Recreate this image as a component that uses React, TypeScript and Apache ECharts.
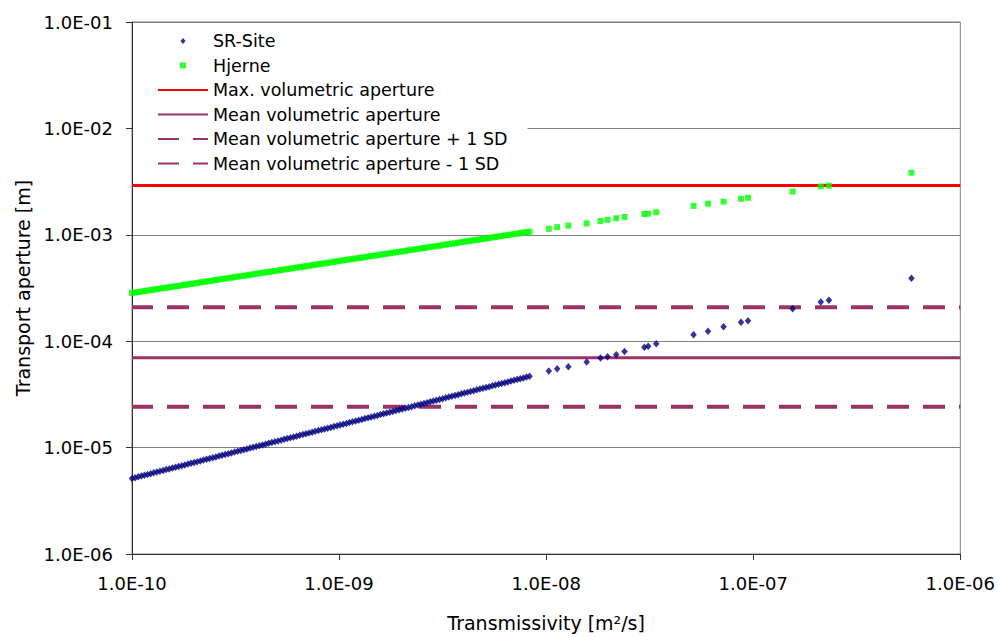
import React, { useEffect, useRef } from "react";
import * as echarts from "echarts";

// Transmissivity [m2/s] (shared by both data sets)
const transmissivity = [
  1.0e-10, 1.072e-10, 1.148e-10, 1.23e-10, 1.318e-10, 1.413e-10, 1.514e-10, 1.622e-10, 1.738e-10, 1.862e-10,
  1.995e-10, 2.138e-10, 2.291e-10, 2.455e-10, 2.63e-10, 2.818e-10, 3.02e-10, 3.236e-10, 3.467e-10, 3.715e-10,
  3.981e-10, 4.266e-10, 4.571e-10, 4.898e-10, 5.248e-10, 5.623e-10, 6.026e-10, 6.457e-10, 6.918e-10, 7.413e-10,
  7.943e-10, 8.511e-10, 9.12e-10, 9.772e-10, 1.047e-9, 1.122e-9, 1.202e-9, 1.288e-9, 1.38e-9, 1.479e-9,
  1.585e-9, 1.698e-9, 1.82e-9, 1.95e-9, 2.089e-9, 2.239e-9, 2.399e-9, 2.57e-9, 2.754e-9, 2.951e-9,
  3.162e-9, 3.388e-9, 3.631e-9, 3.89e-9, 4.169e-9, 4.467e-9, 4.786e-9, 5.129e-9, 5.495e-9, 5.888e-9,
  6.31e-9, 6.761e-9, 7.244e-9, 7.762e-9, 8.318e-9,
  1.03e-8, 1.13e-8, 1.28e-8, 1.57e-8, 1.83e-8, 1.98e-8, 2.18e-8, 2.39e-8, 2.98e-8, 3.11e-8,
  3.4e-8, 5.15e-8, 6.05e-8, 7.19e-8, 8.73e-8, 9.44e-8, 1.55e-7, 2.12e-7, 2.32e-7, 5.81e-7,
];

// Transport aperture [m], SR-Site
const srSite = [
  5.13e-6, 5.31e-6, 5.5e-6, 5.69e-6, 5.89e-6, 6.1e-6, 6.31e-6, 6.53e-6, 6.76e-6, 7.0e-6,
  7.25e-6, 7.5e-6, 7.76e-6, 8.04e-6, 8.32e-6, 8.61e-6, 8.92e-6, 9.23e-6, 9.55e-6, 9.89e-6,
  1.024e-5, 1.06e-5, 1.097e-5, 1.135e-5, 1.175e-5, 1.217e-5, 1.259e-5, 1.304e-5, 1.349e-5, 1.397e-5,
  1.446e-5, 1.497e-5, 1.549e-5, 1.604e-5, 1.66e-5, 1.718e-5, 1.779e-5, 1.841e-5, 1.906e-5, 1.973e-5,
  2.042e-5, 2.114e-5, 2.188e-5, 2.265e-5, 2.345e-5, 2.427e-5, 2.513e-5, 2.601e-5, 2.692e-5, 2.787e-5,
  2.885e-5, 2.986e-5, 3.091e-5, 3.2e-5, 3.312e-5, 3.429e-5, 3.549e-5, 3.674e-5, 3.803e-5, 3.937e-5,
  4.075e-5, 4.218e-5, 4.366e-5, 4.52e-5, 4.679e-5,
  5.24e-5, 5.5e-5, 5.75e-5, 6.37e-5, 6.94e-5, 7.13e-5, 7.44e-5, 8.0e-5, 8.79e-5, 8.98e-5,
  9.44e-5, 1.15e-4, 1.24e-4, 1.37e-4, 1.51e-4, 1.56e-4, 2.02e-4, 2.33e-4, 2.43e-4, 3.91e-4,
];

// Transport aperture [m], Hjerne
const hjerne = [
  2.84e-4, 2.9e-4, 2.96e-4, 3.02e-4, 3.09e-4, 3.15e-4, 3.22e-4, 3.28e-4, 3.35e-4, 3.42e-4,
  3.49e-4, 3.57e-4, 3.64e-4, 3.72e-4, 3.8e-4, 3.88e-4, 3.96e-4, 4.04e-4, 4.12e-4, 4.21e-4,
  4.3e-4, 4.39e-4, 4.48e-4, 4.57e-4, 4.67e-4, 4.77e-4, 4.87e-4, 4.97e-4, 5.07e-4, 5.18e-4,
  5.29e-4, 5.4e-4, 5.51e-4, 5.63e-4, 5.75e-4, 5.87e-4, 5.99e-4, 6.11e-4, 6.24e-4, 6.37e-4,
  6.51e-4, 6.64e-4, 6.78e-4, 6.92e-4, 7.07e-4, 7.22e-4, 7.37e-4, 7.52e-4, 7.68e-4, 7.84e-4,
  8.0e-4, 8.17e-4, 8.34e-4, 8.52e-4, 8.7e-4, 8.88e-4, 9.06e-4, 9.25e-4, 9.45e-4, 9.65e-4,
  9.85e-4, 1.005e-3, 1.026e-3, 1.048e-3, 1.07e-3,
  1.14e-3, 1.18e-3, 1.22e-3, 1.28e-3, 1.35e-3, 1.38e-3, 1.43e-3, 1.47e-3, 1.57e-3, 1.58e-3,
  1.63e-3, 1.87e-3, 1.96e-3, 2.05e-3, 2.18e-3, 2.23e-3, 2.55e-3, 2.85e-3, 2.89e-3, 3.83e-3,
];

// Further fractures in the dense low-transmissivity range (shared transmissivity)
const transmissivityDense = [
  1.035e-10, 1.11e-10, 1.188e-10, 1.273e-10, 1.364e-10, 1.462e-10, 1.567e-10, 1.679e-10, 1.799e-10, 1.927e-10,
  2.065e-10, 2.213e-10, 2.371e-10, 2.541e-10, 2.722e-10, 2.917e-10, 3.126e-10, 3.35e-10, 3.589e-10, 3.845e-10,
  4.121e-10, 4.416e-10, 4.731e-10, 5.07e-10, 5.432e-10, 5.82e-10, 6.238e-10, 6.684e-10, 7.161e-10, 7.673e-10,
  8.222e-10, 8.81e-10, 9.44e-10, 1.0115e-9, 1.084e-9, 1.161e-9, 1.244e-9, 1.333e-9, 1.428e-9, 1.531e-9,
  1.641e-9, 1.758e-9, 1.884e-9, 2.018e-9, 2.162e-9, 2.318e-9, 2.483e-9, 2.66e-9, 2.851e-9, 3.055e-9,
  3.273e-9, 3.507e-9, 3.758e-9, 4.027e-9, 4.315e-9, 4.624e-9, 4.954e-9, 5.309e-9, 5.688e-9, 6.095e-9,
  6.531e-9, 6.998e-9, 7.498e-9, 8.034e-9,
];

const srSiteDense = [
  5.22e-6, 5.4e-6, 5.6e-6, 5.79e-6, 5.99e-6, 6.21e-6, 6.42e-6, 6.64e-6, 6.88e-6, 7.12e-6,
  7.38e-6, 7.63e-6, 7.9e-6, 8.18e-6, 8.46e-6, 8.76e-6, 9.08e-6, 9.39e-6, 9.72e-6, 1.006e-5,
  1.042e-5, 1.078e-5, 1.116e-5, 1.155e-5, 1.195e-5, 1.238e-5, 1.281e-5, 1.327e-5, 1.373e-5, 1.421e-5,
  1.471e-5, 1.523e-5, 1.576e-5, 1.632e-5, 1.689e-5, 1.748e-5, 1.81e-5, 1.873e-5, 1.939e-5, 2.007e-5,
  2.078e-5, 2.151e-5, 2.226e-5, 2.304e-5, 2.386e-5, 2.469e-5, 2.557e-5, 2.646e-5, 2.739e-5, 2.836e-5,
  2.935e-5, 3.038e-5, 3.145e-5, 3.256e-5, 3.37e-5, 3.489e-5, 3.611e-5, 3.738e-5, 3.869e-5, 4.006e-5,
  4.146e-5, 4.291e-5, 4.442e-5, 4.599e-5,
];

const hjerneDense = [
  2.87e-4, 2.93e-4, 2.99e-4, 3.05e-4, 3.12e-4, 3.18e-4, 3.25e-4, 3.31e-4, 3.38e-4, 3.46e-4,
  3.53e-4, 3.61e-4, 3.68e-4, 3.76e-4, 3.84e-4, 3.92e-4, 4.0e-4, 4.08e-4, 4.16e-4, 4.25e-4,
  4.34e-4, 4.44e-4, 4.53e-4, 4.62e-4, 4.72e-4, 4.82e-4, 4.92e-4, 5.02e-4, 5.12e-4, 5.23e-4,
  5.35e-4, 5.46e-4, 5.57e-4, 5.69e-4, 5.81e-4, 5.93e-4, 6.05e-4, 6.17e-4, 6.31e-4, 6.44e-4,
  6.58e-4, 6.71e-4, 6.85e-4, 6.99e-4, 7.14e-4, 7.3e-4, 7.45e-4, 7.6e-4, 7.76e-4, 7.92e-4,
  8.08e-4, 8.26e-4, 8.43e-4, 8.61e-4, 8.79e-4, 8.97e-4, 9.15e-4, 9.35e-4, 9.55e-4, 9.75e-4,
  9.95e-4, 1.015e-3, 1.037e-3, 1.059e-3,
];

// Reference apertures [m]
const maxVolumetric = 2.9e-3;
const meanVolumetric = 7.0e-5;
const meanPlusSD = 2.09e-4;
const meanMinusSD = 2.42e-5;

// Axis ranges
const xRange = [1e-10, 1e-6];
const yRange = [1e-6, 1e-1];

const seriesNames = [
  "SR-Site",
  "Hjerne",
  "Max. volumetric aperture",
  "Mean volumetric aperture",
  "Mean volumetric aperture + 1 SD",
  "Mean volumetric aperture - 1 SD",
];

const FONT = "DejaVu Sans";

function fmtExp(v: number): string {
  const e = Math.round(Math.log10(v));
  return `1.0E${e < 0 ? "-" : "+"}${String(Math.abs(e)).padStart(2, "0")}`;
}

export default function App() {
  const ref = useRef<HTMLDivElement>(null);
  useEffect(() => {
    const chart = echarts.init(ref.current!, null, { renderer: "svg" });
    const hline = (v: number) => [
      [xRange[0], v],
      [xRange[1], v],
    ];
    const purple = "#993366";
    const pairs = (xs: number[], ys: number[]) => xs.map((t, i) => [t, ys[i]]);
    const hideDot = { opacity: 0 };
    chart.setOption({
      animation: false,
      backgroundColor: "#ffffff",
      grid: {
        left: 132,
        right: 36,
        top: 22,
        bottom: 82,
        show: true,
        borderColor: "#808080",
        borderWidth: 1,
        backgroundColor: "transparent",
      },
      legend: {
        orient: "vertical",
        left: 133,
        top: 24,
        itemWidth: 50,
        itemHeight: 6,
        itemGap: 4.5,
        padding: [7, 20, 6, 24],
        backgroundColor: "#ffffff",
        selectedMode: false,
        symbolKeepAspect: true,
        textStyle: { fontFamily: FONT, fontSize: 17.5, color: "#000", lineHeight: 20 },
        data: [
          { name: seriesNames[0], icon: "path://M3,0L6,3.5L3,7L0,3.5Z" },
          { name: seriesNames[1], icon: "path://M0,0L6,0L6,6L0,6Z" },
          { name: seriesNames[2], itemStyle: hideDot },
          { name: seriesNames[3], itemStyle: hideDot },
          { name: seriesNames[4], itemStyle: hideDot },
          { name: seriesNames[5], itemStyle: hideDot },
        ],
      },
      xAxis: {
        type: "log",
        logBase: 10,
        min: xRange[0],
        max: xRange[1],
        name: "Transmissivity [m²/s]",
        nameLocation: "middle",
        nameGap: 59,
        nameTextStyle: { fontFamily: FONT, fontSize: 19, color: "#000" },
        axisLine: { show: true, onZero: false, lineStyle: { color: "#333", width: 1 } },
        axisTick: { show: true, length: 6, lineStyle: { color: "#333" } },
        minorTick: { show: false },
        splitLine: { show: false },
        axisLabel: {
          formatter: (v: number) => fmtExp(v),
          fontFamily: FONT,
          fontSize: 18,
          color: "#000",
          margin: 20,
        },
      },
      yAxis: {
        type: "log",
        logBase: 10,
        min: yRange[0],
        max: yRange[1],
        name: "Transport aperture [m]",
        nameLocation: "middle",
        nameGap: 99,
        nameTextStyle: { fontFamily: FONT, fontSize: 19, color: "#000" },
        axisLine: { show: true, onZero: false, lineStyle: { color: "#333", width: 1 } },
        axisTick: { show: true, length: 6, lineStyle: { color: "#333" } },
        minorTick: { show: false },
        splitLine: { show: true, lineStyle: { color: "#808080", width: 1 } },
        axisLabel: {
          formatter: (v: number) => fmtExp(v),
          fontFamily: FONT,
          fontSize: 18,
          color: "#000",
          margin: 19,
        },
      },
      series: [
        {
          name: seriesNames[2],
          type: "line",
          data: hline(maxVolumetric),
          symbol: "none",
          z: 2,
          lineStyle: { color: "#ff0000", width: 3 },
          itemStyle: { color: "#ff0000" },
        },
        {
          name: seriesNames[3],
          type: "line",
          data: hline(meanVolumetric),
          symbol: "none",
          z: 2,
          lineStyle: { color: purple, width: 3 },
          itemStyle: { color: purple },
        },
        {
          name: seriesNames[4],
          type: "line",
          data: hline(meanPlusSD),
          symbol: "none",
          z: 2,
          lineStyle: { color: purple, width: 4, type: [22, 14], dashOffset: 1 },
          itemStyle: { color: purple },
        },
        {
          name: seriesNames[5],
          type: "line",
          data: hline(meanMinusSD),
          symbol: "none",
          z: 2,
          lineStyle: { color: purple, width: 4, type: [22, 14], dashOffset: 1 },
          itemStyle: { color: purple },
        },
        {
          name: seriesNames[0],
          type: "scatter",
          symbol: "diamond",
          symbolSize: [6.5, 7.5],
          z: 3,
          itemStyle: { color: "#000080" },
          data: pairs(transmissivity, srSite).concat(pairs(transmissivityDense, srSiteDense)),
        },
        {
          name: seriesNames[1],
          type: "scatter",
          symbol: "rect",
          symbolSize: 6,
          z: 3,
          itemStyle: { color: "#00ff00" },
          data: pairs(transmissivity, hjerne).concat(pairs(transmissivityDense, hjerneDense)),
        },
      ],
    });
    return () => chart.dispose();
  }, []);
  return (
    <div
      ref={ref}
      style={{ position: "absolute", left: 0, top: 0, width: 998, height: 637, background: "#fff" }}
    />
  );
}
